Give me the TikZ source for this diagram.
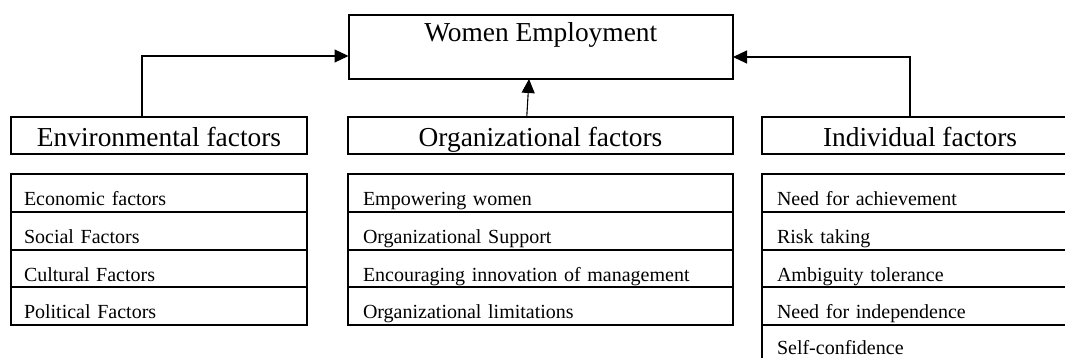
\documentclass[tikz,border=0pt]{standalone}
\usepackage{fontspec}
\setmainfont{Liberation Serif}
\usetikzlibrary{arrows.meta}
\tikzset{
  x=1pt,y=1pt,
  bigfont/.style={font=\fontsize{27.4}{30}\selectfont},
  smallfont/.style={font=\fontsize{20}{24}\selectfont},
  box/.style={draw,line width=2pt,inner sep=0pt,outer sep=0pt,bigfont,align=center},
  headbox/.style={box,text height=30pt,text depth=7pt},
  row/.style={draw,line width=2pt,inner ysep=0pt,outer sep=0pt,smallfont,align=left,
    text height=31.5pt,text depth=6pt,anchor=north west},
  envrow/.style={row,inner xsep=13pt,text width=270pt},
  orgrow/.style={row,inner xsep=15pt,text width=354.5pt},
  indrow/.style={row,inner xsep=15pt,text width=286pt},
  lastrow/.style={indrow,text height=29.5pt,text depth=10pt},
  arr/.style={line width=1.1pt,-{Triangle[length=14pt,width=13pt]}},
}
\begin{document}
\begin{tikzpicture}
\useasboundingbox (0,0) rectangle (1065,-358);
\clip (0,0) rectangle (1065,-358);
% top box
\node[box,minimum width=384.5pt,text height=27pt,text depth=37pt] (we) at (540.75,-47) {Women Employment};
% factor headers
\node[headbox,minimum width=296pt] (env) at (159,-135.5) {Environmental factors};
\node[headbox,minimum width=385pt] (org) at (540.5,-135.5) {Organizational factors};
\node[headbox,minimum width=316pt] (ind) at (920,-135.5) {Individual factors};
% environmental list
\node[envrow] (e1) at (11,-174.5) {Economic factors};
\node[envrow] (e2) at (e1.south west) {Social Factors};
\node[envrow] (e3) at (e2.south west) {Cultural Factors};
\node[envrow] (e4) at (e3.south west) {Political Factors};
% organizational list
\node[orgrow] (o1) at (348,-174.5) {Empowering women};
\node[orgrow] (o2) at (o1.south west) {Organizational Support};
\node[orgrow] (o3) at (o2.south west) {Encouraging innovation of management};
\node[orgrow] (o4) at (o3.south west) {Organizational limitations};
% individual list
\node[indrow] (i1) at (762,-174.5) {Need for achievement};
\node[indrow] (i2) at (i1.south west) {Risk taking};
\node[indrow] (i3) at (i2.south west) {Ambiguity tolerance};
\node[indrow] (i4) at (i3.south west) {Need for independence};
\node[lastrow] (i5) at (i4.south west) {Self-confidence};
% connectors
\draw[arr] ([xshift=-17pt]env.north) |- ([yshift=-9pt]we.west);
\draw[arr] ([xshift=-10pt]ind.north) |- ([yshift=-10pt]we.east);
\draw[arr] ([xshift=-13.75pt]org.north) -- ([xshift=-11.75pt]we.south);
\end{tikzpicture}
\end{document}
